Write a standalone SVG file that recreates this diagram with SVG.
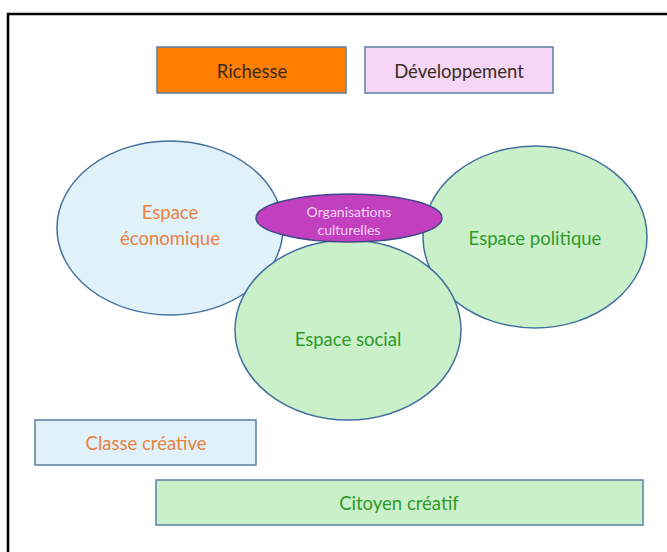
<svg xmlns="http://www.w3.org/2000/svg" width="667" height="552" viewBox="0 0 667 552">
<style>
text{font-family:Lato,"Open Sans","Liberation Sans",sans-serif;text-anchor:middle;dominant-baseline:central}
.box{stroke:#5b7fa6;stroke-width:1.5}
.ell{stroke:#41709e;stroke-width:1.5}
.orange{fill:#e8823e;font-size:18.5px}
.green{fill:#2f9a2a;font-size:18.5px}
.dark{fill:#3a2a22;font-size:18.5px}
</style>
<rect x="0" y="0" width="667" height="552" fill="#ffffff"/>
<rect x="8" y="14" width="680" height="560" fill="none" stroke="#000" stroke-width="2.5"/>
<g id="richesse">
<rect class="box" x="157" y="47" width="189" height="46" fill="#ff7f00"/>
<text class="dark" x="252" y="71">Richesse</text>
</g>
<g id="developpement">
<rect class="box" x="365" y="47" width="188" height="46" fill="#f6d6f6"/>
<text class="dark" x="459" y="71">Développement</text>
</g>
<g id="espace-economique">
<ellipse class="ell" cx="170" cy="228" rx="113" ry="87" fill="#e1f1fa"/>
<text class="orange" x="170" y="212">Espace</text>
<text class="orange" x="170" y="238">économique</text>
</g>
<g id="espace-politique">
<ellipse class="ell" cx="535" cy="237" rx="112" ry="91" fill="#c9f0c9"/>
<text class="green" x="535" y="238">Espace politique</text>
</g>
<g id="espace-social">
<ellipse class="ell" cx="348" cy="330" rx="113" ry="90" fill="#c9f0c9"/>
<text class="green" x="348" y="339">Espace social</text>
</g>
<g id="organisations-culturelles">
<ellipse cx="349" cy="218" rx="93" ry="24" fill="#c23fc0" stroke="#3d4a8a" stroke-width="1.5"/>
<text x="349" y="211" fill="#f3d6f3" font-size="14">Organisations</text>
<text x="349" y="229" fill="#f3d6f3" font-size="14">culturelles</text>
</g>
<g id="classe-creative">
<rect class="box" x="35" y="420" width="221" height="45" fill="#e1f1fa"/>
<text class="orange" x="146" y="443">Classe créative</text>
</g>
<g id="citoyen-creatif">
<rect class="box" x="156" y="480" width="487" height="45" fill="#c9f0c9"/>
<text class="green" x="399" y="503">Citoyen créatif</text>
</g>
<g id="connectors"></g>
</svg>
